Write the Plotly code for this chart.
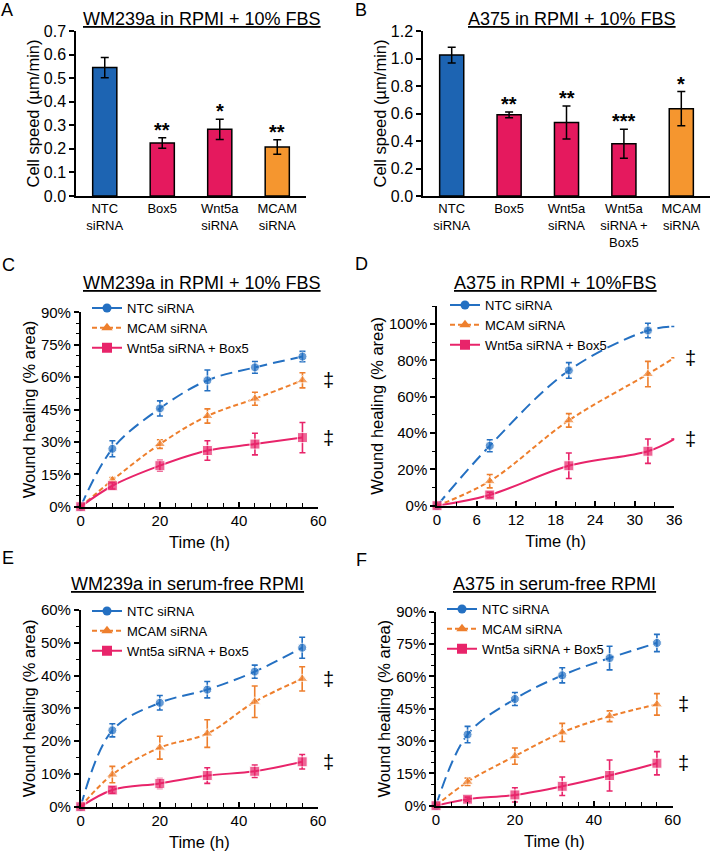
import plotly.graph_objects as go

FONT = "Liberation Sans, Arial, sans-serif"
BLUE = "#1d64b2"
PINK = "#e5195e"
ORANGE = "#f5962f"
L_BLUE = "#2470c2"
L_ORANGE = "#ee7f2d"
L_PINK = "#e8246a"

# ---- panel A: cell speed, WM239a
a_labels = ["NTC<br>siRNA", "Box5", "Wnt5a<br>siRNA", "MCAM<br>siRNA"]
a_speed = [0.545, 0.225, 0.283, 0.208]
a_err = [0.043, 0.022, 0.043, 0.031]
a_stars = ["", "**", "*", "**"]
a_colors = [BLUE, PINK, PINK, ORANGE]

# ---- panel B: cell speed, A375
b_labels = ["NTC<br>siRNA", "Box5", "Wnt5a<br>siRNA", "Wnt5a<br>siRNA +<br>Box5", "MCAM<br>siRNA"]
b_speed = [1.025, 0.59, 0.535, 0.38, 0.635]
b_err = [0.057, 0.021, 0.12, 0.105, 0.125]
b_stars = ["", "**", "**", "***", "*"]
b_colors = [BLUE, PINK, PINK, PINK, ORANGE]

# ---- wound healing time courses (% area)
t_main = [0, 8, 20, 32, 44, 56]
t_d = [0, 8, 20, 32, 36]  # last point = end of the fitted curve, no marker

c_ntc = [0, 26.8, 45.5, 58.5, 64.5, 69.5]
c_ntc_err = [0, 3.7, 3.5, 4.8, 2.7, 2.4]
c_mcam = [0, 12.3, 29.0, 42.0, 50.0, 58.5]
c_mcam_err = [0, 1.2, 2.0, 3.3, 3.0, 3.5]
c_wnt = [0, 9.7, 19.0, 26.0, 29.0, 32.0]
c_wnt_err = [0, 1.5, 2.5, 4.5, 5.0, 7.0]

d_ntc = [0, 33.0, 74.5, 96.5, 98.7]
d_ntc_err = [0, 3.3, 4.3, 4.0, 0]
d_mcam = [0, 13.5, 47.0, 72.5, 81.5]
d_mcam_err = [0, 3.7, 3.7, 7.0, 0]
d_wnt = [0, 5.9, 22.0, 30.0, 36.7]
d_wnt_err = [0, 1.5, 7.0, 6.7, 0]

e_ntc = [0, 23.3, 31.7, 35.7, 41.2, 48.5]
e_ntc_err = [0, 2.0, 2.2, 2.5, 2.0, 3.2]
e_mcam = [0, 9.8, 18.0, 22.3, 32.0, 39.0]
e_mcam_err = [0, 2.5, 3.5, 4.2, 4.8, 3.7]
e_wnt = [0, 5.1, 7.1, 9.5, 10.8, 13.7]
e_wnt_err = [0, 1.0, 1.5, 2.4, 1.9, 2.2]

f_ntc = [0, 33.0, 49.5, 60.5, 68.5, 75.5]
f_ntc_err = [0, 3.8, 3.0, 3.5, 5.5, 4.0]
f_mcam = [0, 11.1, 23.0, 34.0, 41.5, 47.0]
f_mcam_err = [0, 1.7, 3.8, 4.2, 2.5, 5.0]
f_wnt = [0, 3.0, 5.0, 9.0, 14.0, 19.7]
f_wnt_err = [0, 1.0, 3.3, 4.3, 7.2, 5.4]

series_names = ["NTC siRNA", "MCAM siRNA", "Wnt5a siRNA + Box5"]
series_style = [
    dict(color=L_BLUE, dash="12px,6px", symbol="circle", size=9),
    dict(color=L_ORANGE, dash="5px,3px", symbol="triangle-up", size=10),
    dict(color=L_PINK, dash="solid", symbol="square", size=10),
]

fig = go.Figure()


def add_bars(labels, vals, errs, colors, xa, ya):
    fig.add_trace(go.Bar(
        x=labels, y=vals, marker=dict(color=colors, line=dict(color="black", width=1.5)),
        width=0.42, error_y=dict(type="data", array=errs, color="black", thickness=1.5, width=4),
        xaxis=xa, yaxis=ya, showlegend=False))


add_bars(a_labels, a_speed, a_err, a_colors, "x", "y")
add_bars(b_labels, b_speed, b_err, b_colors, "x2", "y2")


def add_lines(t, groups, xa, ya, legend_id, hide_last=False):
    for name, (vals, errs), st in zip(series_names, groups, series_style):
        sizes = [st["size"]] * len(t)
        if hide_last:
            sizes[-1] = 0
        fig.add_trace(go.Scatter(
            x=t, y=vals, mode="lines+markers", line=dict(color=st["color"], width=2, dash=st["dash"], shape="spline"),
            marker=dict(symbol=st["symbol"], size=sizes, color=st["color"]),
            error_y=dict(type="data", array=errs, color=st["color"], thickness=1.6, width=3),
            cliponaxis=False, xaxis=xa, yaxis=ya, showlegend=False))
    # legend entries
    for name, st in zip(series_names, series_style):
        fig.add_trace(go.Scatter(
            x=[None], y=[None], mode="lines+markers", name=name,
            line=dict(color=st["color"], width=2, dash=st["dash"]),
            marker=dict(symbol=st["symbol"], size=st["size"], color=st["color"]),
            xaxis=xa, yaxis=ya, legend=legend_id))


add_lines(t_main, [(c_ntc, c_ntc_err), (c_mcam, c_mcam_err), (c_wnt, c_wnt_err)], "x3", "y3", "legend")
add_lines(t_d, [(d_ntc, d_ntc_err), (d_mcam, d_mcam_err), (d_wnt, d_wnt_err)], "x4", "y4", "legend2", hide_last=True)
add_lines(t_main, [(e_ntc, e_ntc_err), (e_mcam, e_mcam_err), (e_wnt, e_wnt_err)], "x5", "y5", "legend3")
add_lines(t_main, [(f_ntc, f_ntc_err), (f_mcam, f_mcam_err), (f_wnt, f_wnt_err)], "x6", "y6", "legend4")

W, H = 712, 852


def xd(a, b):
    return [a / W, b / W]


def yd(top, bottom):
    return [1 - bottom / H, 1 - top / H]


axis_common = dict(showline=True, linecolor="black", linewidth=1.5, showgrid=False, zeroline=False, automargin=False,
                   tickfont=dict(size=15, color="black"), ticks="outside", ticklen=5, tickcolor="black", tickwidth=1.5)
title_font = dict(size=16.5, color="black")

layout = dict(
    width=W, height=H, margin=dict(l=0, r=0, t=0, b=0),
    paper_bgcolor="white", plot_bgcolor="white",
    font=dict(family=FONT, color="black"),
    xaxis=dict(axis_common, domain=xd(76, 306), anchor="y", ticks="", ticklen=0, tickfont=dict(size=13),
               range=[-0.5, 3.5]),
    yaxis=dict(axis_common, domain=yd(31, 196), anchor="x", range=[0, 0.7], dtick=0.1, tickformat=".1f",
               tickfont=dict(size=16), title=dict(text="Cell speed (µm/min)", font=title_font, standoff=0)),
    xaxis2=dict(axis_common, domain=xd(423, 710), anchor="y2", ticks="", ticklen=0, tickfont=dict(size=13),
                range=[-0.5, 4.5]),
    yaxis2=dict(axis_common, domain=yd(31, 196), anchor="x2", range=[0, 1.2], dtick=0.2, tickformat=".1f",
                tickfont=dict(size=16), title=dict(text="Cell speed (µm/min)", font=title_font, standoff=0)),
)

line_axes = [
    ("3", xd(80.7, 318.3), yd(312.3, 506.7), [0, 60], 20, 4, [0, 90], 15, 5),
    ("4", xd(437, 674.3), yd(306, 505.7), [0, 36], 6, 3, [0, 110], 20, 10),
    ("5", xd(80.7, 318), yd(610, 806.7), [0, 60], 20, 4, [0, 60], 10, 5),
    ("6", xd(436, 672.7), yd(611.7, 805.7), [0, 60], 20, 4, [0, 90], 15, 5),
]
for k, xdom, ydom, xr, xdt, xmin, yr, ydt, ymin in line_axes:
    layout["xaxis" + k] = dict(axis_common, domain=xdom, anchor="y" + k, range=xr, dtick=xdt, tick0=0,
                               ticks="inside", ticklen=5,
                               minor=dict(dtick=xmin, ticks="inside", ticklen=4, tickcolor="black", tickwidth=1.2),
                               title=dict(text="Time (h)", font=title_font, standoff=8))
    layout["yaxis" + k] = dict(axis_common, domain=ydom, anchor="x" + k, range=yr, dtick=ydt, tick0=0,
                               ticksuffix="%",
                               minor=dict(dtick=ymin, ticks="outside", ticklen=3, tickcolor="black", tickwidth=1.2),
                               title=dict(text="Wound healing (% area)", font=title_font, standoff=1))

legend_pos = {"legend": (87, 293), "legend2": (445, 290), "legend3": (87, 596), "legend4": (442, 594)}
for lid, (lx, ly) in legend_pos.items():
    layout[lid] = dict(x=lx / W, y=1 - ly / H, xanchor="left", yanchor="top", bgcolor="rgba(0,0,0,0)",
                       font=dict(size=13, color="black"), itemwidth=30, tracegroupgap=0)

fig.update_layout(**layout)

# panel titles and letters
titles = [
    ("WM239a in RPMI + 10% FBS", 202, 19),
    ("A375 in RPMI + 10% FBS", 572, 19),
    ("WM239a in RPMI + 10% FBS", 202, 283),
    ("A375 in RPMI + 10%FBS", 555, 283),
    ("WM239a in serum-free RPMI", 188, 584),
    ("A375 in serum-free RPMI", 554, 584),
]
for txt, tx, ty in titles:
    fig.add_annotation(text="<u>" + txt + "</u>", x=tx / W, y=1 - ty / H, xref="paper", yref="paper",
                       showarrow=False, font=dict(size=18, color="black"), xanchor="center", yanchor="middle")

letters = [("A", 7, 10), ("B", 361, 10), ("C", 8, 265), ("D", 361, 264), ("E", 8, 558), ("F", 361, 560)]
for txt, lx, ly in letters:
    fig.add_annotation(text=txt, x=lx / W, y=1 - ly / H, xref="paper", yref="paper", showarrow=False,
                       font=dict(size=18, color="black"), xanchor="center", yanchor="middle")

# significance stars
for labels, vals, errs, stars, xa, ya in [(a_labels, a_speed, a_err, a_stars, "x", "y"),
                                          (b_labels, b_speed, b_err, b_stars, "x2", "y2")]:
    for lab, v, e, s in zip(labels, vals, errs, stars):
        if s:
            fig.add_annotation(text="<b>" + s + "</b>", x=lab, y=v + e, xref=xa, yref=ya, showarrow=False,
                               yanchor="bottom", yshift=-5, font=dict(size=20, color="black"))

# double daggers next to MCAM and Wnt5a+Box5 ends
for k, ys, shift in [("3", [c_mcam[-1], c_wnt[-1]], 3), ("4", [d_mcam[-1], d_wnt[-1]], 9),
                     ("5", [e_mcam[-1], e_wnt[-1]], 3), ("6", [f_mcam[-1], f_wnt[-1]], 3)]:
    for yv in ys:
        fig.add_annotation(text="‡", x=1, y=yv, xref="x%s domain" % k, yref="y" + k, showarrow=False,
                           xanchor="left", xshift=shift, font=dict(size=20, color="black"))

fig.write_html("out.html", config={"displayModeBar": False},
               post_script="document.body.style.margin = '0px';")
